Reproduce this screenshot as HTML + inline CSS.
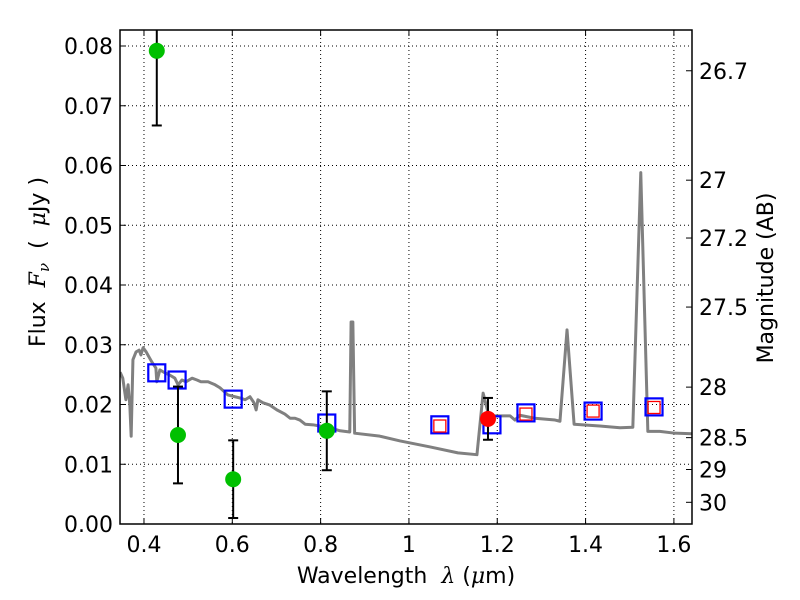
<!DOCTYPE html>
<html><head><meta charset="utf-8"><style>
html,body{margin:0;padding:0;background:#fff;}
svg{display:block;font-family:"DejaVu Sans","Liberation Sans",sans-serif;}
</style></head><body>
<svg id="chart" width="800" height="600" xmlns="http://www.w3.org/2000/svg"></svg>
<script>
const specWave=[0.346,0.352,0.359,0.364,0.368,0.371,0.375,0.382,0.389,0.393,0.398,0.405,0.411,0.418,0.427,0.429,0.436,0.445,0.459,0.470,0.477,0.486,0.495,0.509,0.520,0.529,0.545,0.561,0.572,0.590,0.606,0.617,0.629,0.640,0.649,0.654,0.658,0.669,0.685,0.701,0.719,0.731,0.742,0.753,0.765,0.783,0.798,0.821,0.844,0.866,0.869,0.873,0.877,0.934,0.980,1.048,1.111,1.154,1.168,1.181,1.229,1.240,1.251,1.285,1.331,1.342,1.358,1.374,1.432,1.478,1.507,1.525,1.541,1.568,1.602,1.641];
const specFlux=[0.0254,0.0244,0.0208,0.0233,0.0198,0.0147,0.0275,0.0288,0.0291,0.0283,0.0295,0.0288,0.0280,0.0271,0.0261,0.0238,0.0258,0.0254,0.0249,0.0244,0.0233,0.0241,0.0238,0.0244,0.0241,0.0238,0.0238,0.0233,0.0228,0.0216,0.0213,0.0211,0.0208,0.0213,0.0203,0.0191,0.0208,0.0203,0.0199,0.0191,0.0184,0.0177,0.0177,0.0174,0.0167,0.0166,0.0164,0.0161,0.0156,0.0154,0.0338,0.0338,0.0152,0.0147,0.0139,0.0129,0.0119,0.0116,0.0219,0.0181,0.0181,0.0174,0.0182,0.0177,0.0174,0.0172,0.0325,0.0167,0.0164,0.0161,0.0162,0.0588,0.0155,0.0155,0.0152,0.0151];
const obsWave=[0.429,0.477,0.602,0.814];
const obsFlux=[0.0792,0.0149,0.0075,0.0156];
const obsErr=[0.0125,0.0081,0.0065,0.0066];
const redWave=[1.179];
const redFlux=[0.0176];
const redErr=[0.0035];
const modelWave=[0.429,0.475,0.602,0.814,1.070,1.188,1.265,1.417,1.555];
const modelFlux=[0.0253,0.0241,0.0209,0.0169,0.0166,0.0166,0.0186,0.0189,0.0196];
const innerWave=[1.070,1.265,1.417,1.555];
const innerFlux=[0.0164,0.0184,0.0189,0.0195];
const xTicks=[0.4,0.6,0.8,1.0,1.2,1.4,1.6];
const xTickLabels=["0.4","0.6","0.8","1","1.2","1.4","1.6"];
const yTicks=[0,0.01,0.02,0.03,0.04,0.05,0.06,0.07,0.08];
const yTickLabels=["0.00","0.01","0.02","0.03","0.04","0.05","0.06","0.07","0.08"];
const magTicks=[26.7,27,27.2,27.5,28,28.5,29,30];
const magTickLabels=["26.7","27","27.2","27.5","28","28.5","29","30"];

const L=120,R=692,T=30,B=524;
const XMIN=0.3457,XMAX=1.641,YMIN=0,YMAX=0.08268;
const X=v=>L+(v-XMIN)/(XMAX-XMIN)*(R-L);
const Y=v=>B-(v-YMIN)/(YMAX-YMIN)*(B-T);
const NS="http://www.w3.org/2000/svg";
const svg=document.getElementById('chart');
function mk(tag,attrs,parent){const e=document.createElementNS(NS,tag);for(const k in attrs)e.setAttribute(k,attrs[k]);(parent||svg).appendChild(e);return e;}

const clip=mk('clipPath',{id:'pc'});mk('rect',{x:L,y:T,width:R-L,height:B-T},clip);

const grid=mk('g',{stroke:'#000','stroke-width':1,'stroke-dasharray':'1,3'});


xTicks.forEach(t=>mk('line',{x1:X(t),x2:X(t),y1:T,y2:B},grid));
yTicks.forEach(t=>mk('line',{x1:L,x2:R,y1:Y(t),y2:Y(t)},grid));

const pg=mk('g',{'clip-path':'url(#pc)'});
const sp=mk('polyline',{points:specWave.map((w,i)=>X(w)+','+Y(specFlux[i])).join(' '),fill:'none',stroke:'#808080','stroke-width':3,'stroke-linejoin':'round'},pg);



modelWave.forEach((w,i)=>{const r=mk('rect',{x:X(w)-8.5,y:Y(modelFlux[i])-8.5,width:17,height:17,fill:'none',stroke:'#0000ff','stroke-width':2.2},pg);

});
innerWave.forEach((w,i)=>{const r=mk('rect',{x:X(w)-6,y:Y(innerFlux[i])-6,width:12,height:12,fill:'none',stroke:'#ff0000','stroke-width':1.3},pg);

});

function errbar(w,f,e,col,name){
  const g=mk('g',{},pg);
  
  
  const x=X(w),y1=Y(f+e),y2=Y(f-e);
  mk('line',{x1:x,x2:x,y1:y1,y2:y2,stroke:'#000','stroke-width':2},g);
  mk('line',{x1:x-5,x2:x+5,y1:y1,y2:y1,stroke:'#000','stroke-width':2},g);
  mk('line',{x1:x-5,x2:x+5,y1:y2,y2:y2,stroke:'#000','stroke-width':2},g);
  mk('circle',{cx:x,cy:Y(f),r:8,fill:col},g);
}
obsWave.forEach((w,i)=>errbar(w,obsFlux[i],obsErr[i],'#00c000','observed-flux-point'));
redWave.forEach((w,i)=>errbar(w,redFlux[i],redErr[i],'#ff0000','detection-point'));

const fr=mk('rect',{x:L,y:T,width:R-L,height:B-T,fill:'none',stroke:'#000','stroke-width':1.5});



const FS=22;
const tx=(x,y,s,a,name)=>{const t=mk('text',{x:x,y:y,'font-size':FS,'text-anchor':a,fill:'#000'});t.textContent=s;

return t;};

xTicks.forEach((t,i)=>{const x=X(t);mk('line',{x1:x,x2:x,y1:B,y2:B-6,stroke:'#000'});mk('line',{x1:x,x2:x,y1:T,y2:T+6,stroke:'#000'});
tx(x,B+28,xTickLabels[i],'middle','x-tick-label');});
yTicks.forEach((t,i)=>{const y=Y(t);mk('line',{x1:L,x2:L+6,y1:y,y2:y,stroke:'#000'});
tx(L-7,y+8,yTickLabels[i],'end','y-tick-label');});
magTicks.forEach((m,i)=>{const f=Math.pow(10,(23.9-m)/2.5);const y=Y(f);mk('line',{x1:R,x2:R-6,y1:y,y2:y,stroke:'#000'});
tx(R+7,y+8,magTickLabels[i],'start','magnitude-tick-label');});

const xl=mk('text',{x:406,y:583,'font-size':FS,'text-anchor':'middle'});


xl.innerHTML='Wavelength\u00a0\u00a0<tspan font-style="italic" font-family="DejaVu Serif,serif">λ</tspan> (<tspan font-style="italic" font-family="DejaVu Serif,serif">μ</tspan>m)';
const yl=mk('text',{x:0,y:0,'font-size':FS,'text-anchor':'middle',transform:'translate(45,262) rotate(-90)'});


yl.innerHTML='Flux\u00a0\u00a0<tspan font-style="italic" font-family="DejaVu Serif,serif">F<tspan font-size="15" dy="4">ν</tspan></tspan><tspan dy="-4">\u00a0\u00a0(\u00a0\u00a0</tspan><tspan font-style="italic" font-family="DejaVu Serif,serif">μ</tspan>Jy )';
const rl=mk('text',{x:0,y:0,'font-size':FS,'text-anchor':'middle',transform:'translate(773,278) rotate(-90)'});


rl.textContent='Magnitude (AB)';
</script>
</body></html>
